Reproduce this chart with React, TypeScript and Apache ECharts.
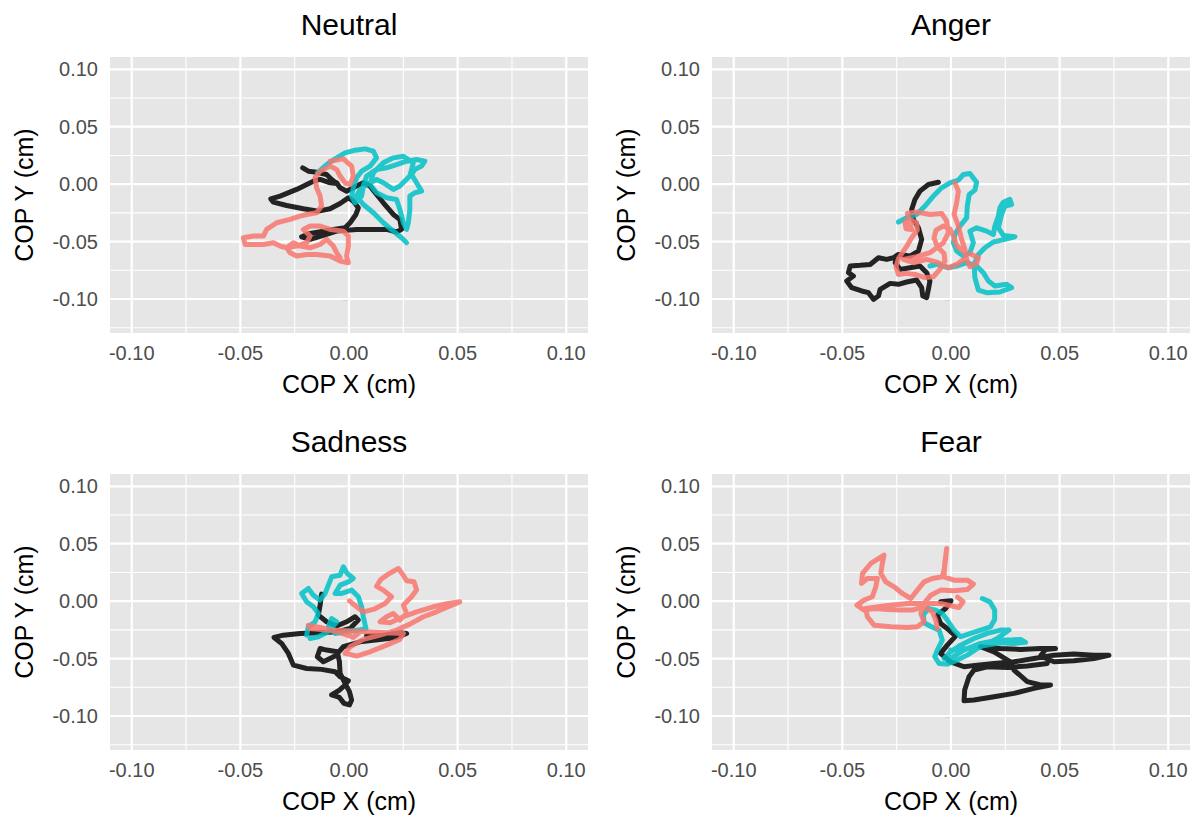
import React, { useEffect, useRef } from "react";
import * as echarts from "echarts";

// ---------- axis settings ----------
const X_MIN = -0.11;
const X_MAX = 0.11;
const Y_MIN = -0.1296;
const Y_MAX = 0.1107;
const xTicks = [-0.1, -0.05, 0, 0.05, 0.1];
const yTicks = [-0.1, -0.05, 0, 0.05, 0.1];
const xMinor = [-0.075, -0.025, 0.025, 0.075];
const yMinor = [-0.125, -0.075, -0.025, 0.025, 0.075];
const panelTitles = ["Neutral", "Anger", "Sadness", "Fear"];
const xTitle = "COP X (cm)";
const yTitle = "COP Y (cm)";

// ---------- data (COP x, COP y) ----------
const neutralBlack = [
  [-0.0213, 0.0142], [-0.0187, 0.0113], [-0.0149, 0.0104], [-0.0103, 0.0084], [-0.008, 0.0041],
  [-0.0057, 0.0006], [-0.0087, 0.0012], [-0.0133, 0.0041], [-0.0164, 0.0026], [-0.0241, -0.0046],
  [-0.0317, -0.0104], [-0.036, -0.0128], [-0.0348, -0.0157], [-0.0287, -0.0186], [-0.021, -0.0214],
  [-0.0141, -0.0235], [-0.0087, -0.0214], [-0.0041, -0.0168], [-0.0003, -0.0119], [0.002, -0.0148],
  [0.0043, -0.0206], [0.0032, -0.0264], [0.0005, -0.0336], [-0.0018, -0.038], [-0.0072, -0.0394],
  [-0.0118, -0.0409], [-0.0179, -0.0429], [-0.0218, -0.0458], [-0.0179, -0.0481], [-0.0118, -0.0446],
  [-0.0057, -0.0409], [0.0035, -0.0394], [0.0112, -0.0394], [0.0173, -0.0394], [0.0219, -0.0417],
  [0.0242, -0.0394], [0.0234, -0.0307], [0.0204, -0.0264], [0.0158, -0.0162], [0.0127, -0.009],
  [0.0097, -0.0017], [0.0066, 0.0012], [0.0035, -0.0017], [-0.0011, -0.0061], [-0.0041, -0.0032],
  [-0.0057, 0.0012],
];
const neutralTeal = [
  [-0.0146, 0.0099], [-0.0103, 0.0171], [-0.0057, 0.0229], [-0.0018, 0.0272], [0.0028, 0.0296],
  [0.0074, 0.0307], [0.0112, 0.0287], [0.0127, 0.0229], [0.0097, 0.0157], [0.0058, 0.0113],
  [0.0035, 0.0055], [0.002, -0.0032], [0.0012, -0.0104], [0.0028, -0.0162], [0.0058, -0.0104],
  [0.0066, -0.0017], [0.0081, 0.007], [0.0127, 0.0128], [0.0173, 0.0142], [0.0219, 0.0171],
  [0.0265, 0.02], [0.0311, 0.0214], [0.0349, 0.02], [0.0334, 0.0157], [0.0303, 0.0128],
  [0.0288, 0.0084], [0.0311, 0.0012], [0.0334, -0.0061], [0.0303, -0.0075], [0.028, -0.0104],
  [0.028, -0.022], [0.0273, -0.0336], [0.0265, -0.0394], [0.025, -0.0336], [0.0234, -0.022],
  [0.0219, -0.0133], [0.0173, -0.0119], [0.0127, -0.0075], [0.0097, -0.0003], [0.0112, 0.0099],
  [0.0158, 0.0186], [0.0204, 0.0229], [0.025, 0.0243], [0.0296, 0.0186], [0.028, 0.007],
  [0.0234, -0.0017], [0.0204, -0.0046], [0.0158, 0.0012], [0.0127, 0.0041], [0.0081, -0.0003],
  [0.0051, -0.0046], [0.0035, -0.0104], [0.0066, -0.0177], [0.0112, -0.0249], [0.0158, -0.0336],
  [0.0204, -0.0409], [0.0242, -0.0467], [0.0265, -0.051],
];
const neutralRed = [
  [-0.0087, 0.02], [-0.0026, 0.022], [0.0012, 0.0157], [0.002, 0.007], [0.0005, -0.0003],
  [-0.0018, 0.0012], [-0.0041, 0.007], [-0.0057, 0.0128], [-0.0087, 0.0157], [-0.0133, 0.0113],
  [-0.0156, 0.0055], [-0.0149, -0.0032], [-0.0133, -0.0104], [-0.0126, -0.0191], [-0.0149, -0.0249],
  [-0.0195, -0.0264], [-0.0225, -0.0278], [-0.0271, -0.0307], [-0.0333, -0.0336], [-0.0379, -0.0394],
  [-0.0394, -0.0452], [-0.044, -0.0452], [-0.0486, -0.0467], [-0.0478, -0.0525], [-0.044, -0.0525],
  [-0.0394, -0.0525], [-0.0348, -0.051], [-0.0317, -0.0539], [-0.0287, -0.0554], [-0.0241, -0.0539],
  [-0.0195, -0.051], [-0.0179, -0.0452], [-0.021, -0.0394], [-0.0179, -0.0365], [-0.0133, -0.0365],
  [-0.0087, -0.0394], [-0.0026, -0.0409], [-0.0003, -0.0452], [-0.0003, -0.0539], [-0.0011, -0.0626],
  [-0.0003, -0.0684], [-0.0041, -0.067], [-0.0087, -0.0626], [-0.0149, -0.0612], [-0.0195, -0.0612],
  [-0.0241, -0.0626], [-0.0271, -0.0597], [-0.0287, -0.0554], [-0.0256, -0.051], [-0.0225, -0.0539],
  [-0.0179, -0.0554], [-0.0133, -0.0525], [-0.0103, -0.0481], [-0.0072, -0.0539], [-0.0057, -0.0597],
  [-0.0041, -0.0641],
];

const angerBlack = [
  [-0.0058, 0.0017], [-0.0104, -0.0003], [-0.0143, -0.0061], [-0.0166, -0.0133], [-0.0181, -0.022],
  [-0.0173, -0.0307], [-0.015, -0.038], [-0.0135, -0.0481], [-0.015, -0.0583], [-0.0189, -0.0626],
  [-0.0242, -0.0612], [-0.0265, -0.0641], [-0.0296, -0.0655], [-0.0334, -0.0641], [-0.0372, -0.0699],
  [-0.0418, -0.0707], [-0.0464, -0.0713], [-0.0472, -0.0771], [-0.0449, -0.08], [-0.048, -0.0843],
  [-0.0457, -0.0901], [-0.0411, -0.093], [-0.038, -0.0945], [-0.0357, -0.1003], [-0.0334, -0.0974],
  [-0.0326, -0.0916], [-0.028, -0.0864], [-0.0242, -0.0872], [-0.0204, -0.0852], [-0.0158, -0.0835],
  [-0.0135, -0.0901], [-0.013, -0.0974], [-0.0112, -0.0988], [-0.0104, -0.0916], [-0.0097, -0.0843],
  [-0.0112, -0.0771], [-0.0143, -0.0713], [-0.0189, -0.0728], [-0.0234, -0.0742], [-0.0257, -0.0684],
  [-0.025, -0.0641],
];
const angerTeal = [
  [-0.0242, -0.033], [-0.0204, -0.0293], [-0.0158, -0.0264], [-0.012, -0.0191], [-0.0081, -0.0104],
  [-0.0043, -0.0032], [-0.0005, 0.0012], [0.0034, 0.0035], [0.0057, 0.0084], [0.0087, 0.0093],
  [0.0118, 0.0017], [0.011, -0.0052], [0.0084, -0.009], [0.0075, -0.0191], [0.0072, -0.0293],
  [0.0041, -0.0365], [0.0018, -0.0438], [0.0011, -0.051], [0.0026, -0.0583], [0.0057, -0.0626],
  [0.0087, -0.0597], [0.0103, -0.051], [0.0087, -0.0409], [0.0118, -0.038], [0.0164, -0.0409],
  [0.0195, -0.0438], [0.0202, -0.0365], [0.0218, -0.0278], [0.0225, -0.0206], [0.0241, -0.0157],
  [0.0271, -0.0133], [0.0279, -0.0177], [0.0248, -0.0191], [0.0233, -0.0264], [0.0218, -0.038],
  [0.0241, -0.0446], [0.0294, -0.0458], [0.0248, -0.0481], [0.0195, -0.0504], [0.0156, -0.0554],
  [0.0126, -0.0612], [0.0106, -0.0699], [0.011, -0.0814], [0.0126, -0.0922], [0.0164, -0.0945],
  [0.0225, -0.0939], [0.0279, -0.0901], [0.0256, -0.0872], [0.0202, -0.0887], [0.0172, -0.0843],
  [0.0149, -0.0771], [0.0118, -0.0713], [0.0072, -0.0684], [0.0026, -0.0713], [-0.0012, -0.0728],
  [-0.0066, -0.0699], [-0.0097, -0.0713],
];
const angerRed = [
  [0.0018, 0.0012], [0.0034, -0.0061], [0.0026, -0.0162], [0.0014, -0.0264], [0.0034, -0.0365],
  [0.0049, -0.0481], [0.0064, -0.0568], [0.0072, -0.0655], [0.0087, -0.0719], [0.0118, -0.069],
  [0.0126, -0.0641], [0.0095, -0.0612], [0.0057, -0.0591], [0.0026, -0.0533], [0.0011, -0.0452],
  [-0.0005, -0.0388], [-0.0035, -0.0365], [-0.0069, -0.04], [-0.0078, -0.0467], [-0.0063, -0.0545],
  [-0.0032, -0.0603], [-0.0028, -0.067], [-0.0051, -0.0742], [-0.0081, -0.0806], [-0.012, -0.0814],
  [-0.0166, -0.0786], [-0.0207, -0.0777], [-0.0242, -0.0786], [-0.0253, -0.0719], [-0.0242, -0.0649],
  [-0.0222, -0.0591], [-0.0201, -0.0533], [-0.0181, -0.0467], [-0.0155, -0.04], [-0.0158, -0.0336],
  [-0.0189, -0.0307], [-0.0212, -0.033], [-0.0207, -0.0388], [-0.0181, -0.0394], [-0.0201, -0.0255],
  [-0.0158, -0.0243], [-0.0097, -0.0264], [-0.0043, -0.0255], [-0.002, -0.0322], [-0.0012, -0.0423],
  [-0.0035, -0.051], [-0.0097, -0.0597], [-0.0158, -0.0632], [-0.0219, -0.0655], [-0.0173, -0.0684],
  [-0.0112, -0.0655], [-0.0058, -0.0684], [-0.0012, -0.0728], [0.0026, -0.0699], [0.0057, -0.0655],
];

const sadnessBlack = [
  [-0.0126, 0.0061], [-0.0133, -0.0035], [-0.0141, -0.0122], [-0.0103, -0.018], [-0.0057, -0.0217],
  [-0.0011, -0.018], [0.0028, -0.0136], [0.0043, -0.0165], [0.0005, -0.0238], [-0.0057, -0.0267],
  [-0.0133, -0.0275], [-0.0225, -0.0281], [-0.0302, -0.0296], [-0.0345, -0.0316], [-0.031, -0.0368],
  [-0.0279, -0.0455], [-0.0256, -0.0557], [-0.0195, -0.0586], [-0.0126, -0.0594], [-0.0064, -0.0614],
  [-0.0041, -0.0658], [-0.0003, -0.0693], [-0.0018, -0.073], [-0.0044, -0.0774], [-0.008, -0.0817],
  [-0.0044, -0.0838], [-0.0023, -0.089], [0.0002, -0.0904], [0.0012, -0.0861], [0.0002, -0.0788],
  [-0.0018, -0.0716], [-0.0041, -0.0629], [-0.0044, -0.0528], [-0.0054, -0.0441], [-0.0103, -0.0426],
  [-0.0133, -0.0412], [-0.0146, -0.0484], [-0.0118, -0.0528], [-0.0064, -0.0478], [-0.0026, -0.0397],
  [0.0051, -0.0354], [0.0143, -0.0333], [0.0219, -0.0316], [0.0265, -0.0281], [0.0234, -0.0275],
  [0.0158, -0.0296], [0.0081, -0.0304],
];
const sadnessTeal = [
  [-0.0195, -0.0296], [-0.0187, -0.0223], [-0.0156, -0.018], [-0.0141, -0.0107], [-0.0164, -0.0049],
  [-0.0195, -0.0006], [-0.0218, 0.0067], [-0.0187, 0.011], [-0.0164, 0.0052], [-0.0133, 0.0009],
  [-0.011, 0.0067], [-0.0095, 0.0139], [-0.008, 0.0212], [-0.0041, 0.0226], [-0.0026, 0.0299],
  [-0.0008, 0.0241], [0.002, 0.0197], [-0.0003, 0.0168], [-0.0041, 0.0139], [-0.0064, 0.0067],
  [-0.0034, 0.0067], [0.0012, 0.0096], [0.0043, 0.0038], [0.0058, -0.0049], [0.0066, -0.0136],
  [0.0078, -0.0238], [0.0043, -0.0252], [-0.0011, -0.0267], [-0.0064, -0.0281], [-0.0095, -0.0223],
  [-0.008, -0.0151], [-0.0057, -0.018], [-0.0095, -0.0267], [-0.0141, -0.031], [-0.0179, -0.0325],
];
const sadnessRed = [
  [0.0002, 0.0003], [0.0035, -0.0049], [0.0066, -0.0093], [0.0112, -0.0072], [0.0166, -0.002],
  [0.0196, 0.0038], [0.0158, 0.0096], [0.0127, 0.013], [0.0146, 0.0188], [0.0181, 0.0235],
  [0.0227, 0.0284], [0.025, 0.0226], [0.0265, 0.0177], [0.0299, 0.0168], [0.0311, 0.0096],
  [0.0288, 0.0038], [0.025, -0.0035], [0.0265, -0.0107], [0.0234, -0.0165], [0.0204, -0.0107],
  [0.0173, -0.0136], [0.0143, -0.018], [0.0189, -0.0188], [0.025, -0.0136], [0.0311, -0.0093],
  [0.0388, -0.0049], [0.0457, -0.002], [0.051, -0.0006], [0.0472, -0.0035], [0.0403, -0.0093],
  [0.0342, -0.0136], [0.028, -0.02], [0.0219, -0.0252], [0.0143, -0.0296], [0.0066, -0.0333],
  [0.0005, -0.0397], [-0.0018, -0.0455], [0.0035, -0.0478], [0.0097, -0.0441], [0.0173, -0.0383],
  [0.0234, -0.0333], [0.025, -0.0281], [0.0173, -0.0275], [0.0081, -0.0267], [-0.0011, -0.0258],
  [-0.0103, -0.0252], [-0.0179, -0.0238], [-0.0187, -0.0209], [-0.0133, -0.0229], [-0.0041, -0.0275],
  [0.002, -0.0316], [0.0051, -0.0267],
];

const fearBlack = [
  [-0.0048, -0.0006], [0.0, 0.0003], [-0.0025, -0.0064], [-0.0063, -0.0122], [-0.0048, -0.0194],
  [-0.0009, -0.0252], [0.0021, -0.0304], [-0.0017, -0.0383], [-0.0048, -0.0455], [-0.0002, -0.0528],
  [0.006, -0.0571], [0.0121, -0.0557], [0.0198, -0.0542], [0.029, -0.0528], [0.0382, -0.0499],
  [0.0474, -0.047], [0.0566, -0.0461], [0.0658, -0.047], [0.0727, -0.0472], [0.0658, -0.0499],
  [0.0566, -0.0519], [0.0474, -0.0528], [0.0412, -0.0478], [0.0435, -0.042], [0.0481, -0.0412],
  [0.0412, -0.0412], [0.032, -0.042], [0.0228, -0.0412], [0.0136, -0.0397], [0.0198, -0.0441],
  [0.0274, -0.0528], [0.029, -0.06], [0.0351, -0.0701], [0.0412, -0.073], [0.0458, -0.073],
  [0.0382, -0.0759], [0.029, -0.0803], [0.0198, -0.0832], [0.0106, -0.0861], [0.006, -0.0867],
  [0.0063, -0.0774], [0.0083, -0.0658], [0.0106, -0.06], [0.0167, -0.0571], [0.0259, -0.0577],
  [0.0351, -0.0565], [0.0443, -0.0542],
];
const fearTeal = [
  [0.0144, 0.0023], [0.0179, -0.0006], [0.0201, -0.0078], [0.0201, -0.0159], [0.0182, -0.0223],
  [0.0136, -0.0252], [0.009, -0.0281], [0.0044, -0.031], [0.0014, -0.0252], [-0.0017, -0.0165],
  [-0.004, -0.0107], [-0.007, -0.0078], [-0.0106, -0.0064], [-0.0127, -0.0122], [-0.0124, -0.0188],
  [-0.009, -0.0223], [-0.0055, -0.0252], [-0.004, -0.0339], [-0.0063, -0.0426], [-0.0075, -0.0484],
  [-0.0055, -0.0542], [-0.0017, -0.0548], [0.0029, -0.0513], [0.0075, -0.047], [0.0121, -0.0412],
  [0.0167, -0.0368], [0.0213, -0.0325], [0.0267, -0.0252], [0.0228, -0.0252], [0.0167, -0.0281],
  [0.0106, -0.0325], [0.0044, -0.0383], [-0.0002, -0.0441], [-0.0032, -0.0499], [-0.0002, -0.0499],
  [0.0058, -0.0426], [0.0136, -0.0368], [0.0213, -0.0339], [0.0274, -0.0339], [0.032, -0.0333],
  [0.0343, -0.0359], [0.0289, -0.0368], [0.0228, -0.0362], [0.0167, -0.0383], [0.0075, -0.0412],
  [-0.0002, -0.0426],
];
const fearRed = [
  [-0.0063, -0.0238], [-0.007, -0.0165], [-0.0086, -0.0093], [-0.0124, -0.0049], [-0.0178, -0.0078],
  [-0.0231, -0.0078], [-0.0291, -0.0072], [-0.0354, -0.0064], [-0.04, -0.0078], [-0.0433, -0.0035],
  [-0.04, 0.0009], [-0.0362, 0.0038], [-0.0346, 0.0125], [-0.0339, 0.0197], [-0.0385, 0.0197],
  [-0.0412, 0.0154], [-0.0407, 0.0241], [-0.0369, 0.0328], [-0.0308, 0.04], [-0.0316, 0.0328],
  [-0.0323, 0.0241], [-0.03, 0.0168], [-0.0262, 0.0125], [-0.0224, 0.0067], [-0.0185, 0.0023],
  [-0.0155, 0.0096], [-0.0124, 0.0168], [-0.0086, 0.0197], [-0.004, 0.0212], [-0.0029, 0.0299],
  [-0.002, 0.0458], [-0.0029, 0.0328], [-0.0032, 0.0212], [0.0014, 0.0183], [0.0075, 0.0183],
  [0.0103, 0.0148], [0.0075, 0.0101], [0.0014, 0.009], [-0.0048, 0.0096], [-0.0093, 0.0052],
  [-0.0124, -0.002], [-0.0139, -0.0107], [-0.0124, -0.018], [-0.0155, -0.0223], [-0.0201, -0.0229],
  [-0.0277, -0.0223], [-0.0354, -0.0209], [-0.0385, -0.0136], [-0.0392, -0.0064], [-0.03, -0.004],
  [-0.02, -0.002], [-0.0048, -0.002], [0.0036, -0.0055], [0.0056, -0.0005], [0.003, 0.0035],
];

const panelData = [
  [neutralBlack, neutralTeal, neutralRed],
  [angerBlack, angerTeal, angerRed],
  [sadnessBlack, sadnessTeal, sadnessRed],
  [fearBlack, fearTeal, fearRed],
];
const seriesColors = ["#000000", "#00BFC4", "#F8766D"];

// ---------- layout ----------
const FONT = "'Liberation Sans', Arial, Helvetica, sans-serif";
const PANEL_W = 478;
const PANEL_H = 276;
const panelPos = [
  { left: 110, top: 57 },
  { left: 712, top: 57 },
  { left: 110, top: 474 },
  { left: 712, top: 474 },
];

export default function App() {
  const ref = useRef<HTMLDivElement>(null);

  useEffect(() => {
    if (!ref.current) return;
    const chart = echarts.init(ref.current, null, { renderer: "svg" });

    const gridLineData: number[][] = [];
    xMinor.forEach((v) => gridLineData.push([v, 0, 0]));
    yMinor.forEach((v) => gridLineData.push([v, 1, 0]));
    xTicks.forEach((v) => gridLineData.push([v, 0, 1]));
    yTicks.forEach((v) => gridLineData.push([v, 1, 1]));

    const grids: any[] = [];
    const xAxes: any[] = [];
    const yAxes: any[] = [];
    const series: any[] = [];
    const graphics: any[] = [];

    panelPos.forEach((p, i) => {
      grids.push({
        left: p.left,
        top: p.top,
        width: PANEL_W,
        height: PANEL_H,
        show: true,
        backgroundColor: "#E6E6E6",
        borderWidth: 0,
        containLabel: false,
      });
      xAxes.push({
        type: "value",
        gridIndex: i,
        min: X_MIN,
        max: X_MAX,
        axisLine: { show: false },
        splitLine: { show: false },
        axisPointer: { show: false },
        axisTick: {
          show: true,
          length: 6,
          customValues: xTicks,
          lineStyle: { color: "#333333", width: 1.2 },
        },
        axisLabel: {
          customValues: xTicks,
          margin: 10,
          color: "#4D4D4D",
          fontSize: 20,
          fontFamily: FONT,
          formatter: (v: number) => v.toFixed(2),
        },
      });
      yAxes.push({
        type: "value",
        gridIndex: i,
        min: Y_MIN,
        max: Y_MAX,
        axisLine: { show: false },
        splitLine: { show: false },
        axisPointer: { show: false },
        axisTick: {
          show: true,
          length: 6,
          customValues: yTicks,
          lineStyle: { color: "#333333", width: 1.2 },
        },
        axisLabel: {
          customValues: yTicks,
          margin: 12,
          color: "#4D4D4D",
          fontSize: 20,
          fontFamily: FONT,
          formatter: (v: number) => v.toFixed(2),
        },
      });
      series.push({
        type: "custom",
        xAxisIndex: i,
        yAxisIndex: i,
        silent: true,
        z: 1,
        clip: false,
        data: gridLineData,
        renderItem: (_params: any, api: any) => {
          const v = api.value(0);
          const o = api.value(1);
          const m = api.value(2);
          const a = o === 0 ? api.coord([v, Y_MIN]) : api.coord([X_MIN, v]);
          const b = o === 0 ? api.coord([v, Y_MAX]) : api.coord([X_MAX, v]);
          return {
            type: "line",
            shape: { x1: a[0], y1: a[1], x2: b[0], y2: b[1] },
            style: { stroke: "#FFFFFF", fill: null, lineWidth: m ? 2.2 : 1.1 },
          };
        },
      });
      panelData[i].forEach((d, k) => {
        series.push({
          type: "line",
          xAxisIndex: i,
          yAxisIndex: i,
          z: 3 + k,
          data: d,
          showSymbol: false,
          symbol: "none",
          silent: true,
          lineStyle: {
            color: seriesColors[k],
            width: 5,
            opacity: 0.85,
            cap: "round",
            join: "round",
          },
        });
      });
      const cx = p.left + PANEL_W / 2;
      const cy = p.top + PANEL_H / 2;
      graphics.push({
        type: "text",
        x: cx,
        y: p.top - 33,
        style: {
          text: panelTitles[i],
          fill: "#000000",
          font: `30px ${FONT}`,
          textAlign: "center",
          textVerticalAlign: "middle",
        },
      });
      graphics.push({
        type: "text",
        x: cx,
        y: p.top + PANEL_H + 51,
        style: {
          text: xTitle,
          fill: "#000000",
          font: `25px ${FONT}`,
          textAlign: "center",
          textVerticalAlign: "middle",
        },
      });
      graphics.push({
        type: "text",
        x: p.left - 86,
        y: cy,
        rotation: Math.PI / 2,
        style: {
          text: yTitle,
          fill: "#000000",
          font: `25px ${FONT}`,
          textAlign: "center",
          textVerticalAlign: "middle",
        },
      });
    });

    chart.setOption({
      animation: false,
      backgroundColor: "#FFFFFF",
      grid: grids,
      xAxis: xAxes,
      yAxis: yAxes,
      series,
      graphic: graphics,
    });

    return () => chart.dispose();
  }, []);

  return (
    <div
      ref={ref}
      style={{ position: "absolute", left: 0, top: 0, width: 1193, height: 818 }}
    />
  );
}
